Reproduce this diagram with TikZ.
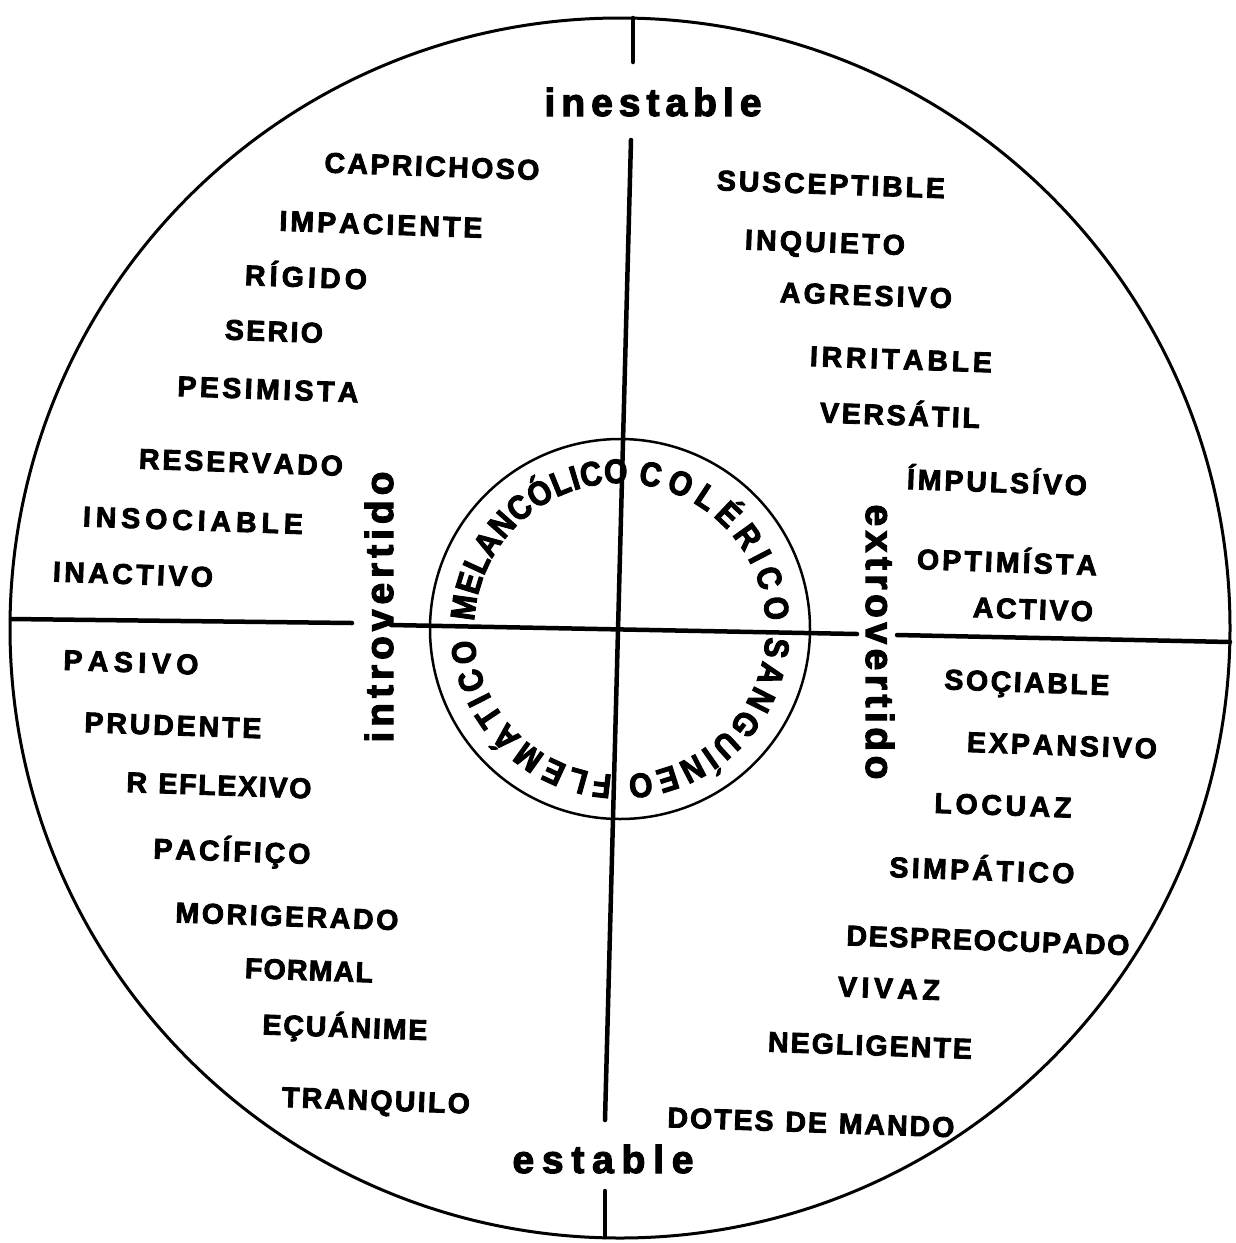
\documentclass[tikz,border=0pt]{standalone}
\usepackage{fontspec}
\setmainfont{Liberation Sans}
\newfontfamily\wordfont[BoldFeatures={FakeBold=3}]{Liberation Sans}
\newfontfamily\circfont[BoldFeatures={FakeBold=3, FakeStretch=0.88}]{Liberation Sans}
\usetikzlibrary{decorations.text}
\makeatletter
\newcommand\spr[2]{\makebox[#1][s]{\@tfor\sprch:=#2\do{\sprch\hfil}\unskip}}
\makeatother
\newcommand\ifont{\circfont\bfseries\fontsize{34}{34}\selectfont}
\begin{document}
\begin{tikzpicture}[x=1pt,y=-1pt,
  word/.style={font=\wordfont\bfseries\fontsize{28.5}{28.5}\selectfont, inner sep=0pt,
    text height=20.4pt, text depth=0pt, rotate=-2, anchor=center},
  axislbl/.style={font=\wordfont\bfseries\fontsize{39}{39}\selectfont, inner sep=0pt, anchor=base},
  axisline/.style={line width=4.5pt, line cap=round},
  ring/.style={line width=3pt},
  innerring/.style={line width=2.5pt},
  circtext/.style={decorate, decoration={text along path, text align={fit to path}}}]
\useasboundingbox (0,0) rectangle (1236,1243);
\coordinate (O) at (620,628);
\coordinate (C) at (620,629);
% circles
\draw[ring] (O) circle[radius=610];
\draw[innerring] (C) circle[radius=190];
% axis coordinates
\coordinate (vt1) at (633,18);  \coordinate (vt2) at (633,62);
\coordinate (vm1) at (631,140); \coordinate (vm2) at (605,1120);
\coordinate (vb1) at (605,1191); \coordinate (vb2) at (605,1237);
\coordinate (hl1) at (11,619);  \coordinate (hl2) at (352,623);
\coordinate (hm1) at (391,625); \coordinate (hm2) at (857,634);
\coordinate (hr1) at (897,635); \coordinate (hr2) at (1230,642);
\draw[axisline] (vt1) -- (vt2);
\draw[axisline] (vm1) -- (vm2);
\draw[axisline] (vb1) -- (vb2);
\draw[axisline] (hl1) -- (hl2);
\draw[axisline] (hm1) -- (hm2);
\draw[axisline] (hr1) -- (hr2);
% axis labels
\node[axislbl] (ines) at (653,116) {\spr{217pt}{inestable}};
\node[axislbl] (est) at (603,1173) {\spr{181pt}{estable}};
\node[axislbl, rotate=90] (intro) at (393,607) {\spr{271pt}{introvertido}};
\node[axislbl, rotate=-90] (extro) at (866,642) {\spr{275pt}{extrovertido}};
% inner circle words
\path[circtext, decoration={text={|\ifont|MELANCÓLICO}}] (C) ++(-177:146) arc[start angle=-177, end angle=-87, radius=146];
\path[circtext, decoration={text={|\ifont|COLÉRICO}}] (C) ++(-83:146) arc[start angle=-83, end angle=-3, radius=146];
\path[circtext, decoration={text={|\ifont|SANGUÍNEO}}] (C) ++(3:146) arc[start angle=3, end angle=87, radius=146];
\path[circtext, decoration={text={|\ifont|FLEMÁTICO}}] (C) ++(93:146) arc[start angle=93, end angle=176, radius=146];
% upper left
\node[word] (w1) at (432,166) {\spr{215pt}{CAPRICHOSO}};
\node[word] (w2) at (381,224) {\spr{203pt}{IMPACIENTE}};
\node[word] (w3) at (306,277) {\spr{122pt}{RÍGIDO}};
\node[word] (w4) at (274,331) {\spr{98pt}{SERIO}};
\node[word] (w5) at (268,389) {\spr{181pt}{PESIMISTA}};
\node[word] (w6) at (241,462) {\spr{204pt}{RESERVADO}};
\node[word] (w7) at (193,520) {\spr{220pt}{INSOCIABLE}};
\node[word] (w8) at (133,574) {\spr{160pt}{INACTIVO}};
% upper right
\node[word] (w9) at (831,184) {\spr{228pt}{SUSCEPTIBLE}};
\node[word] (w10) at (825,242) {\spr{160pt}{INQUIETO}};
\node[word] (w11) at (866,295) {\spr{172pt}{AGRESIVO}};
\node[word] (w12) at (901,359) {\spr{182pt}{IRRITABLE}};
\node[word] (w13) at (900,415) {\spr{160pt}{VERSÁTIL}};
\node[word] (w14) at (997,482) {\spr{180pt}{ÍMPULSÍVO}};
\node[word] (w15) at (1007,562) {\spr{180pt}{OPTIMÍSTA}};
\node[word] (w16) at (1033,609) {\spr{120pt}{ACTIVO}};
% lower left
\node[word] (w17) at (131,662) {\spr{135pt}{PASIVO}};
\node[word] (w18) at (173,725) {\spr{177pt}{PRUDENTE}};
\node[word] (w19) at (219,785) {\spr{185pt}{R~EFLEXIVO}};
\node[word] (w20) at (232,851) {\spr{157pt}{PACÍFIÇO}};
\node[word] (w21) at (287,916) {\spr{223pt}{MORIGERADO}};
\node[word] (w22) at (309,970) {\spr{128pt}{FORMAL}};
\node[word] (w23) at (345,1027) {\spr{165pt}{EÇUÁNIME}};
\node[word] (w24) at (376,1100) {\spr{188pt}{TRANQUILO}};
% lower right
\node[word] (w25) at (1027,682) {\spr{165pt}{SOÇIABLE}};
\node[word] (w26) at (1062,745) {\spr{190pt}{EXPANSIVO}};
\node[word] (w27) at (1003,805) {\spr{137pt}{LOCUAZ}};
\node[word] (w28) at (982,870) {\spr{185pt}{SIMPÁTICO}};
\node[word] (w29) at (988,940) {\spr{283pt}{DESPREOCUPADO}};
\node[word] (w30) at (889,988) {\spr{102pt}{VIVAZ}};
\node[word] (w31) at (870,1045) {\spr{204pt}{NEGLIGENTE}};
\node[word] (w32) at (811,1122) {\spr{287pt}{DOTES~DE~MANDO}};
\end{tikzpicture}
\end{document}
